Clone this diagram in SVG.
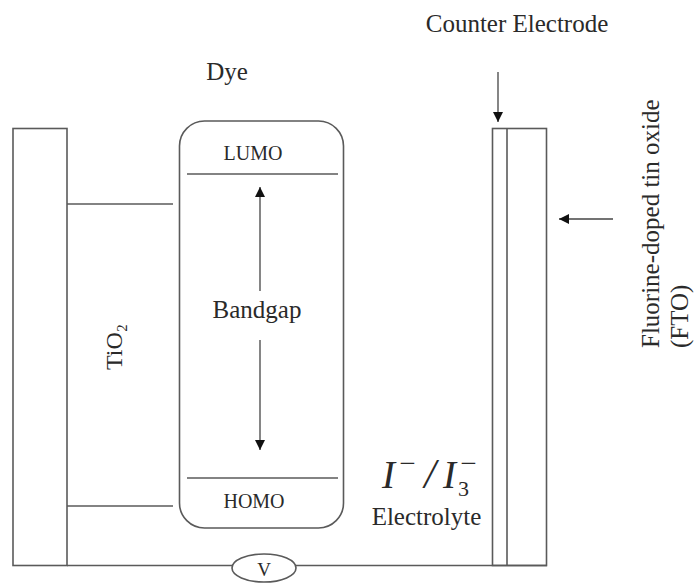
<svg xmlns="http://www.w3.org/2000/svg" width="694" height="584" viewBox="0 0 694 584">
<defs>
<marker id="arrow" viewBox="0 0 10 10" refX="10" refY="5" markerWidth="10" markerHeight="10" markerUnits="userSpaceOnUse" orient="auto-start-reverse"><path d="M0 0L10 5L0 10Z" fill="#111"/></marker>
</defs>
<style>
.s{fill:none;stroke:#5a5a5a;stroke-width:1.6}
.a{fill:none;stroke:#444;stroke-width:1.3;marker-end:url(#arrow)}
text{font-family:"Liberation Serif","Times New Roman",serif;fill:#2a2a2a;text-anchor:middle}
.v{text-anchor:start;font-size:25px}
</style>
<rect width="694" height="584" fill="#fff"/>
<g id="connectors">
<path class="s" d="M67 204H173"/>
<path class="s" d="M67 506H173"/>
<path class="s" d="M67 565.500H233"/>
<path class="s" d="M296 565.500H547"/>
<path class="a" d="M498 72V122"/>
<path class="a" d="M613 219H559"/>
<path class="a" d="M260 291V187"/>
<path class="a" d="M260 340V450"/>
</g>
<g id="tio2"><rect class="s" x="13" y="128.500" width="54" height="437"/><text transform="translate(122 347) rotate(-90)" font-size="24">TiO₂</text></g>
<g id="dye"><rect class="s" x="179.500" y="121" width="164" height="407" rx="25"/><text x="227" y="80" font-size="25">Dye</text></g>
<g id="lumo"><path class="s" d="M187 174H338"/><text x="253" y="160" font-size="20">LUMO</text></g>
<g id="homo"><path class="s" d="M187 478H338"/><text x="254" y="508" font-size="20">HOMO</text></g>
<g id="bandgap"><text x="257" y="318" font-size="25">Bandgap</text></g>
<g id="electrode"><rect class="s" x="492.500" y="128.500" width="54" height="437"/><path class="s" d="M507 128.500V566"/></g>
<g id="counter-label"><text x="517" y="32" font-size="25">Counter Electrode</text></g>
<g id="fto-label"><text class="v" transform="translate(659 348) rotate(-90)">Fluorine-doped tin oxide</text><text class="v" transform="translate(688 348) rotate(-90)">(FTO)</text></g>
<g id="electrolyte"><text x="388.500" y="488" font-size="39" font-style="italic">I</text><text x="407.500" y="473" font-size="29">−</text><text x="430" y="488" font-size="42" font-style="italic">/</text><text x="449.500" y="488" font-size="39" font-style="italic">I</text><text x="468.500" y="473" font-size="29">−</text><text x="463.500" y="496" font-size="22">3</text><text x="426.500" y="525" font-size="25">Electrolyte</text></g>
<g id="voltmeter"><ellipse cx="264" cy="568" rx="32" ry="14" fill="#fff" stroke="#5a5a5a" stroke-width="1.600"/><text x="264" y="576" font-size="19">V</text></g>
</svg>
